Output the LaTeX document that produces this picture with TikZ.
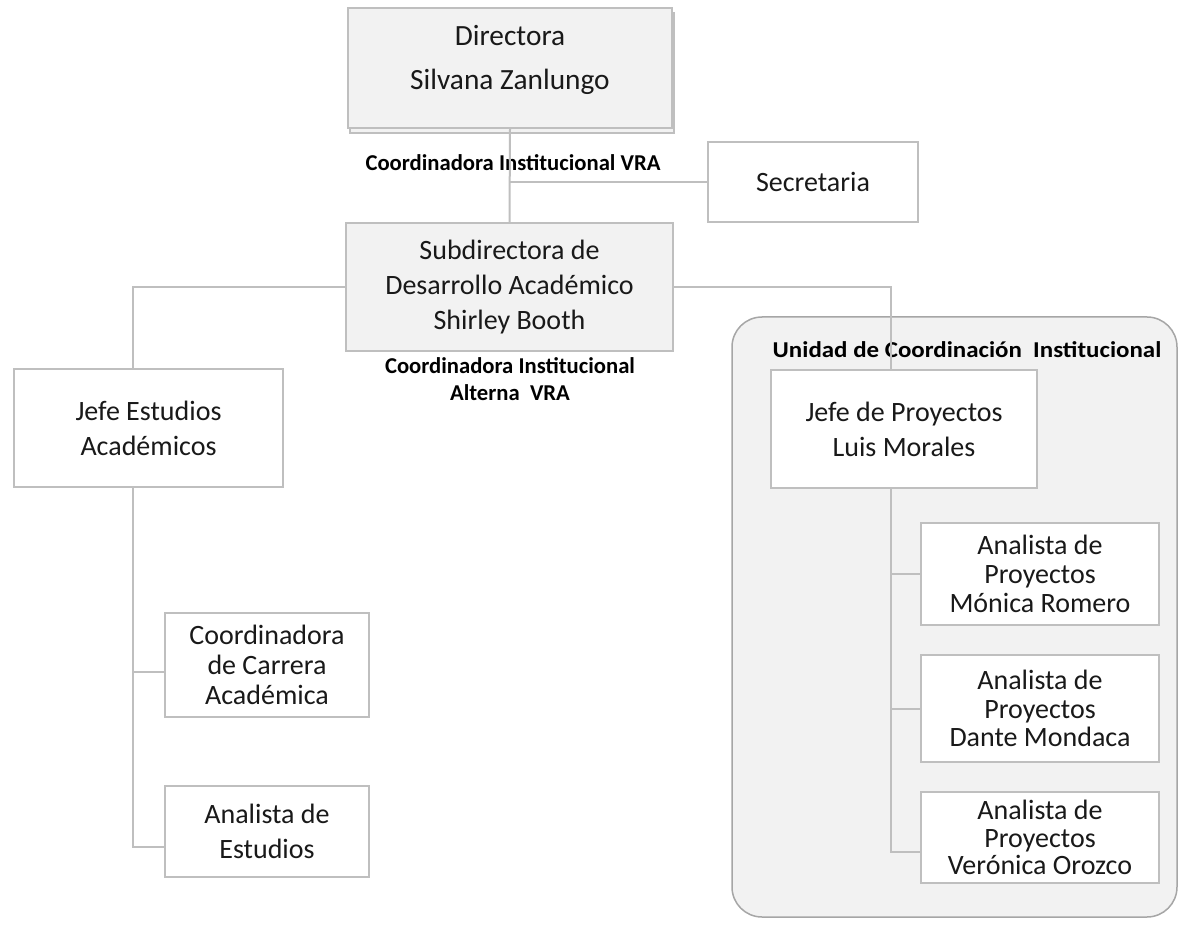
\documentclass[tikz,border=0pt]{standalone}
\usepackage{fontspec}
\usepackage{graphicx}
\setmainfont{Carlito}
\usetikzlibrary{shadows}
\definecolor{linegray}{HTML}{BFBFBF}
\definecolor{boxfill}{HTML}{F2F2F2}
\definecolor{unitline}{HTML}{A6A6A6}
\def\pxu{0.75pt}
\tikzset{
  orgbox/.style={draw=linegray, line width=2*\pxu, fill=white, inner sep=0pt, align=center,
    text=black!90, font=\fontsize{21}{26.25}\selectfont},
  graybox/.style={orgbox, fill=boxfill},
  conn/.style={draw=linegray, line width=2*\pxu},
  tag/.style={align=center, font=\fontsize{17}{20}\selectfont\bfseries},
  unitbox/.style={draw=unitline, fill=boxfill, line width=1.5*\pxu, rounded corners=30*\pxu, inner sep=0pt}
}
\begin{document}
\begin{tikzpicture}[x=0.75pt,y=-0.75pt]
\path[fill=white] (0,0) rectangle (1179,927);
\useasboundingbox (0,0) rectangle (1179,927);
\node[unitbox, minimum width=445*\pxu, minimum height=600*\pxu] (unit) at (954.5,617) {};
\node[tag, anchor=west] (unitlbl) at (768,350) {\scalebox{1.1}[1]{Unidad de Coordinación\ \ Institucional}};
\node[graybox, copy shadow={shadow xshift=2*\pxu, shadow yshift=-5*\pxu}, minimum width=324*\pxu, minimum height=120*\pxu] (dir) at (510,68) {};
\node[align=center, text=black!90, font=\fontsize{22}{33}\selectfont] (dirtxt) at (510,60) {Directora\\Silvana Zanlungo};
\node[orgbox, minimum width=210*\pxu, minimum height=80*\pxu] (sec) at (813,182) {Secretaria};
\node[graybox, minimum width=327*\pxu, minimum height=128*\pxu] (sub) at (509.5,287) {Subdirectora de\\Desarrollo Académico\\Shirley Booth};
\node[tag] (vra) at (513,163) {Coordinadora Institucional VRA};
\node[tag] (alt) at (510,379) {Coordinadora Institucional\\Alterna\ \ VRA};
\node[orgbox, minimum width=269*\pxu, minimum height=118*\pxu] (jes) at (148.5,428) {Jefe Estudios\\Académicos};
\node[orgbox, minimum width=204*\pxu, minimum height=104*\pxu, font=\fontsize{21}{22.5}\selectfont] (ccar) at (267,665) {Coordinadora\\de Carrera\\Académica};
\node[orgbox, minimum width=204*\pxu, minimum height=91*\pxu] (aes) at (267,831.5) {Analista de\\Estudios};
\node[orgbox, minimum width=266*\pxu, minimum height=118*\pxu] (jp) at (904,429) {Jefe de Proyectos\\Luis Morales};
\node[orgbox, minimum width=238*\pxu, minimum height=102*\pxu, font=\fontsize{21}{21.6}\selectfont] (amr) at (1040,574) {Analista de\\Proyectos\\Mónica Romero};
\node[orgbox, minimum width=238*\pxu, minimum height=107*\pxu, font=\fontsize{21}{21.4}\selectfont] (adm) at (1040,708.5) {Analista de\\Proyectos\\Dante Mondaca};
\node[orgbox, minimum width=238*\pxu, minimum height=91*\pxu, font=\fontsize{21}{20.6}\selectfont] (avo) at (1040,837.5) {Analista de\\Proyectos\\Verónica Orozco};
\draw[conn] (dir.south) -- (sub.north);
\draw[conn] (sec.west) -- (sec.west -| dir.south);
\draw[conn] (sub.west) -| ([xshift=-15.5*\pxu]jes.north);
\draw[conn] (sub.east) -| ([xshift=-13*\pxu]jp.north);
\draw[conn] ([xshift=-15.5*\pxu]jes.south) |- ([yshift=-7*\pxu]ccar.west);
\draw[conn] ([xshift=-15.5*\pxu]jes.south) |- ([yshift=-15.5*\pxu]aes.west);
\draw[conn] ([xshift=-13*\pxu]jp.south) |- (amr.west);
\draw[conn] ([xshift=-13*\pxu]jp.south) |- (adm.west);
\draw[conn] ([xshift=-13*\pxu]jp.south) |- ([yshift=-14.5*\pxu]avo.west);
\end{tikzpicture}
\end{document}
